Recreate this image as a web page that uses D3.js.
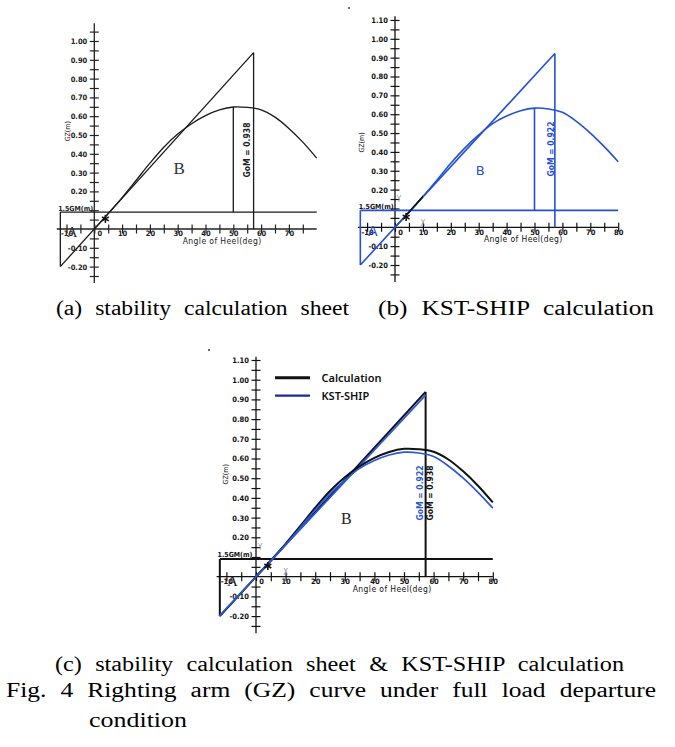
<!DOCTYPE html>
<html><head><meta charset="utf-8">
<script src="https://cdn.jsdelivr.net/npm/d3@7"></script>
<style>body{margin:0;background:#fff}</style>
</head><body><svg id="c" width="675" height="747"></svg>
<script>
// ---------------- data ----------------
const angles = [0,5,10,15,20,25,30,35,40,45,50,55,60,65,70,75,80];
const gzCalc = [0,0.082,0.167,0.258,0.35,0.435,0.505,0.56,0.603,0.633,0.649,0.647,0.634,0.595,0.535,0.462,0.377];
const gzKst  = [0,0.080,0.163,0.250,0.34,0.420,0.490,0.55,0.590,0.618,0.632,0.628,0.610,0.562,0.500,0.428,0.348];
const gmCalc = 0.938;
const gmKst = 0.922;
const gmAngle = 57.3;      // 1 radian
const gzBottom = -0.20;
const critGZ = 0.09;       // 1.5GM line
const checkAngle = 50;
const xTickLabels = [-10,0,10,20,30,40,50,60,70,80];
const yTickLabels = [-0.2,-0.1,0.2,0.3,0.4,0.5,0.6,0.7,0.8,0.9,1.0,1.1];
const markerStar = {a:4, gz:0.054};
const markerXY = [{t:"Y", a:1.4, gz:0.15},{t:"X", a:10, gz:0.022}];
const legendLabels = ["Calculation","KST-SHIP"];
const captions = ["(a) stability calculation sheet","(b) KST-SHIP calculation",
  "(c) stability calculation sheet & KST-SHIP calculation",
  "Fig. 4 Righting arm (GZ) curve under full load departure","condition"];

// ---------------- drawing ----------------
const svg = d3.select("#c");
const BLUE = "#2450d8";
const tickFont = "'DejaVu Sans Condensed','DejaVu Sans',sans-serif";
const fmt = d => (d<0?"-":"") + Math.abs(d).toFixed(2);

function drawPanel(cfg){
  const g = svg.append("g");
  const x = d3.scaleLinear().domain([0,80]).range([cfg.x0, cfg.x0 + 80*cfg.kx]);
  const y = d3.scaleLinear().domain([0,1]).range([cfg.y0, cfg.y0 - cfg.ky]);
  const ac = cfg.axisColor;
  // axis lines
  g.append("line").attr("x1", x(cfg.xMin)).attr("x2", x(80)).attr("y1", y(0)).attr("y2", y(0))
    .attr("stroke", ac).attr("stroke-width", 1.3);
  g.append("line").attr("x1", x(0)).attr("x2", x(0)).attr("y1", y(cfg.yTop)).attr("y2", y(cfg.yBot))
    .attr("stroke", ac).attr("stroke-width", 1.3);
  // y axis
  const yt = d3.range(-0.25, cfg.tickMaxY + 0.001, 0.05).map(v => Math.round(v*100)/100).filter(v => v !== 0);
  const yAx = d3.axisLeft(y).tickValues(yt).tickSize(4.5).tickPadding(2.5)
    .tickFormat(d => (yTickLabels.some(l => Math.abs(l-d)<1e-6) && d <= cfg.labelMaxY+1e-6) ? fmt(d) : "");
  const ya = g.append("g").attr("transform", `translate(${x(0)},0)`).call(yAx);
  ya.select(".domain").remove();
  ya.selectAll(".tick line").attr("x1", 4.5).attr("stroke", ac).attr("stroke-width", 1.2);
  ya.selectAll(".tick text").attr("font-family", tickFont).attr("font-weight", "bold")
    .attr("font-size", 7.5).attr("fill", cfg.textColor);
  // x axis
  const xt = d3.range(-10, cfg.tickMaxX + 1, 5);
  const xAx = d3.axisBottom(x).tickValues(xt).tickSize(4.5).tickPadding(-2.5)
    .tickFormat(d => (xTickLabels.includes(d) && d <= cfg.labelMaxX) ? String(d) : "");
  const xa = g.append("g").attr("transform", `translate(0,${y(0)})`).call(xAx);
  xa.select(".domain").remove();
  xa.selectAll(".tick line").attr("y1", -4.5).attr("stroke", ac).attr("stroke-width", 1.2);
  xa.selectAll(".tick text").attr("font-family", tickFont).attr("font-weight", "bold")
    .attr("font-size", 7.5).attr("fill", cfg.textColor)
    .attr("x", d => d === 0 ? 5 : 0);
  // axis titles
  g.append("text").attr("x", x(46)).attr("y", y(0) + 15).attr("text-anchor", "middle")
    .attr("font-family", tickFont).attr("font-size", 8.5).attr("fill", cfg.textColor)
    .attr("letter-spacing", 0.4).text("Angle of Heel(deg)");
  g.append("text").attr("transform", `translate(${x(0) - cfg.gzTitleDx},${y(cfg.gzTitleY)}) rotate(-90)`)
    .attr("text-anchor", "middle").attr("font-family", tickFont).attr("font-size", 7)
    .attr("fill", cfg.textColor).text("GZ(m)");

  const lineFn = d3.line().x(d => x(d[0])).y(d => y(d[1])).curve(d3.curveCatmullRom);
  // series
  cfg.series.forEach(s => {
    const aStart = gzBottom / s.gm * gmAngle;
    if (s.frame){
      g.append("line").attr("x1", x(aStart)).attr("x2", x(80)).attr("y1", y(critGZ)).attr("y2", y(critGZ))
        .attr("stroke", s.frameColor).attr("stroke-width", s.w);
      g.append("line").attr("x1", x(aStart)).attr("x2", x(aStart)).attr("y1", y(critGZ)).attr("y2", y(gzBottom))
        .attr("stroke", s.frameColor).attr("stroke-width", s.w);
      g.append("line").attr("x1", x(gmAngle)).attr("x2", x(gmAngle)).attr("y1", y(s.gm)).attr("y2", y(0))
        .attr("stroke", s.frameColor).attr("stroke-width", s.w);
      if (s.check){
        const v = s.gz[angles.indexOf(checkAngle)];
        g.append("line").attr("x1", x(checkAngle)).attr("x2", x(checkAngle)).attr("y1", y(v)).attr("y2", y(critGZ))
          .attr("stroke", s.frameColor).attr("stroke-width", s.w);
      }
    }
    g.append("line").attr("x1", x(aStart)).attr("x2", x(gmAngle)).attr("y1", y(gzBottom)).attr("y2", y(s.gm))
      .attr("stroke", s.color).attr("stroke-width", s.w);
  });
  cfg.series.forEach(s => {
    g.append("path").datum(angles.map((a,i) => [a, s.gz[i]])).attr("d", lineFn)
      .attr("fill", "none").attr("stroke", s.color).attr("stroke-width", s.w);
  });
  if (cfg.blackBit){
    const cid = "clip" + cfg.id;
    g.append("clipPath").attr("id", cid).append("rect").attr("x", x(3.5)).attr("width", x(10)-x(3.5))
      .attr("y", y(0.3)).attr("height", y(0)-y(0.3));
    g.append("path").datum(angles.map((a,i) => [a, cfg.series[0].gz[i]])).attr("d", lineFn)
      .attr("clip-path", `url(#${cid})`).attr("fill", "none").attr("stroke", "#111").attr("stroke-width", 1.6);
  }
  // GoM labels
  cfg.gomLabels.forEach(l => {
    g.append("text").attr("transform", `translate(${x(l.a)},${y(l.gz)}) rotate(-90)`)
      .attr("text-anchor", "middle").attr("dy", "0.35em").attr("font-family", tickFont)
      .attr("font-weight", "bold").attr("font-size", 8.5).attr("fill", l.color).text(l.text);
  });
  // 1.5GM label
  g.append("text").attr("x", x(-13)).attr("y", y(critGZ) - 1.5).attr("font-family", tickFont)
    .attr("font-size", 7).attr("font-weight", "bold").attr("fill", cfg.textColor).text("1.5GM(m)");
  // A, B
  g.append("text").attr("x", x(-8)).attr("y", y(-0.045)).attr("text-anchor", "middle")
    .attr("font-family", cfg.abFont).attr("font-size", cfg.aSize).attr("fill", cfg.abColor).text("A");
  g.append("text").attr("x", x(cfg.bPos[0])).attr("y", y(cfg.bPos[1])).attr("text-anchor", "middle")
    .attr("font-family", cfg.abFont).attr("font-size", cfg.bSize).attr("fill", cfg.abColor).text("B");
  // star marker
  const sx = x(markerStar.a), sy = y(markerStar.gz);
  [0, 60, 120].forEach(ang => {
    const r = 4, t = ang*Math.PI/180;
    g.append("line").attr("x1", sx - r*Math.sin(t)).attr("y1", sy - r*Math.cos(t))
      .attr("x2", sx + r*Math.sin(t)).attr("y2", sy + r*Math.cos(t))
      .attr("stroke", "#111").attr("stroke-width", 1.6);
  });
  if (cfg.xyMarks){
    markerXY.forEach(m => {
      g.append("text").attr("x", x(m.a)).attr("y", y(m.gz)).attr("text-anchor", "middle")
        .attr("dy", "0.35em").attr("font-family", tickFont).attr("font-size", 8)
        .attr("fill", "#999").text(m.t);
    });
  }
  return {x, y};
}

drawPanel({id:"a", x0:94.3, kx:2.78, y0:229, ky:188, xMin:-13.5, yTop:1.095, yBot:-0.287,
  tickMaxX:75, labelMaxX:70, tickMaxY:1.05, labelMaxY:1.0, axisColor:"#222", textColor:"#222",
  gzTitleDx:24, gzTitleY:0.52, abFont:"'Liberation Serif',serif", abColor:"#333", aSize:15, bSize:17, bPos:[30.5,0.29],
  series:[{gz:gzCalc, gm:gmCalc, color:"#1a1a1a", frameColor:"#1a1a1a", w:1.3, frame:true, check:true}],
  gomLabels:[{a:54.9, gz:0.42, text:"GoM = 0.938", color:"#222"}]});

drawPanel({id:"b", x0:395, kx:2.79, y0:227.3, ky:188.5, xMin:-13.3, yTop:1.12, yBot:-0.29,
  tickMaxX:80, labelMaxX:80, tickMaxY:1.10, labelMaxY:1.10, axisColor:"#111", textColor:"#111",
  gzTitleDx:31.5, gzTitleY:0.45, abFont:"'DejaVu Sans',sans-serif", abColor:BLUE, aSize:14, bSize:13, bPos:[30.5,0.28],
  series:[{gz:gzKst, gm:gmKst, color:BLUE, frameColor:BLUE, w:1.6, frame:true, check:true}],
  gomLabels:[{a:55.9, gz:0.415, text:"GoM = 0.922", color:BLUE}], blackBit:true, xyMarks:true});

drawPanel({id:"c", x0:256, kx:2.96, y0:576.7, ky:197, xMin:-13.3, yTop:1.117, yBot:-0.287,
  tickMaxX:80, labelMaxX:80, tickMaxY:1.10, labelMaxY:1.10, axisColor:"#111", textColor:"#111",
  gzTitleDx:27.7, gzTitleY:0.52, abFont:"'Liberation Serif',serif", abColor:"#222", aSize:15, bSize:16, bPos:[30.5,0.27],
  series:[{gz:gzCalc, gm:gmCalc, color:"#111", frameColor:"#111", w:2, frame:true, check:false},
          {gz:gzKst, gm:gmKst, color:"#2a58d8", frameColor:"#2a58d8", w:1.7, frame:false}],
  gomLabels:[{a:55.4, gz:0.425, text:"GoM = 0.922", color:"#2a58d8"},{a:58.8, gz:0.425, text:"GoM = 0.938", color:"#111"}],
  xyMarks:true});

// legend for panel (c)
const legColors = ["#111", "#1a2aa0"];
legendLabels.forEach((t,i) => {
  const ly = 377.7 + i*18;
  svg.append("line").attr("x1", 275).attr("x2", 310).attr("y1", ly).attr("y2", ly)
    .attr("stroke", legColors[i]).attr("stroke-width", i ? 2.2 : 3);
  svg.append("text").attr("x", 321.5).attr("y", ly + 4).attr("font-family", "'Noto Sans',sans-serif")
    .attr("font-size", 11).attr("font-weight", 600).attr("fill", "#111").text(t);
});

// stray dots
svg.append("circle").attr("cx", 349).attr("cy", 8).attr("r", 1).attr("fill", "#333");
svg.append("circle").attr("cx", 209).attr("cy", 350).attr("r", 1).attr("fill", "#333");

// captions: [x start, baseline, target width]
const capPos = [[56,315,293],[378,315,276],[55,671,569],[6,697,650],[89,727,98]];
captions.forEach((t,i) => {
  const p = capPos[i];
  svg.append("text").attr("x", p[0]).attr("y", p[1])
    .attr("font-family", "'Liberation Serif','DejaVu Serif',serif").attr("font-size", 20)
    .attr("word-spacing", 6).attr("textLength", p[2]).attr("lengthAdjust", "spacingAndGlyphs")
    .attr("fill", "#000").text(t);
});
</script></body></html>
